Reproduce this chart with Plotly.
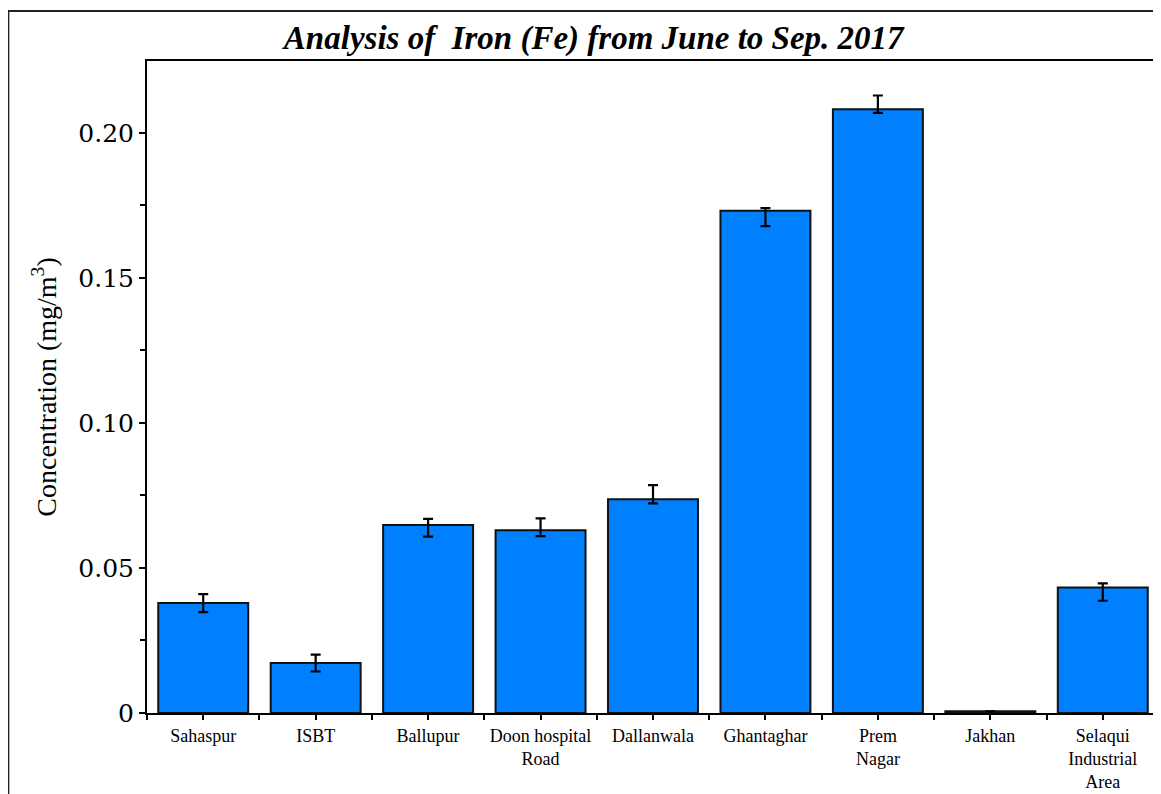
import plotly.graph_objects as go

categories = ["Sahaspur", "ISBT", "Ballupur", "Doon hospital<br>Road", "Dallanwala",
              "Ghantaghar", "Prem<br>Nagar", "Jakhan", "Selaqui<br>Industrial<br>Area"]
values = [0.0379, 0.0172, 0.0648, 0.0630, 0.0737, 0.1732, 0.2082, 0.0006, 0.0433]
err_plus = [0.0031, 0.0029, 0.0021, 0.0041, 0.0049, 0.0009, 0.0047, 0.0, 0.0014]
err_minus = [0.0031, 0.0029, 0.0040, 0.0020, 0.0014, 0.0053, 0.0013, 0.0, 0.0046]
y_ticks = [0, 0.05, 0.10, 0.15, 0.20]
y_ticktext = ["0", "0.05", "0.10", "0.15", "0.20"]

xpos = list(range(len(categories)))

fig = go.Figure()
fig.add_trace(go.Bar(
    x=xpos, y=values,
    marker=dict(color="#0080FF", line=dict(color="#111111", width=2)),
    width=0.8,
    error_y=dict(type="data", symmetric=False, array=err_plus, arrayminus=err_minus,
                 color="black", thickness=2.2, width=5),
))

serif = "Liberation Serif, Times New Roman, serif"

fig.update_layout(
    width=1153, height=786,
    margin=dict(l=139, r=0, t=53, b=81),
    paper_bgcolor="white", plot_bgcolor="white",
    showlegend=False,
    title=dict(text="<b><i>Analysis of  Iron (Fe) from June to Sep. 2017</i></b>",
               x=0.508, xanchor="center", y=0.962, yanchor="middle",
               font=dict(family=serif, size=33, color="black")),
    font=dict(family=serif, color="black"),
    xaxis=dict(
        range=[-0.5, len(categories) - 0.5],
        tickmode="array", tickvals=xpos, ticktext=categories,
        ticks="outside", ticklen=5, tickwidth=2, tickcolor="black",
        minor=dict(dtick=0.5, tick0=-0.5, ticks="outside", ticklen=5, tickwidth=2, tickcolor="black"),
        showline=True, linecolor="black", linewidth=2, mirror=True,
        showgrid=False, zeroline=False,
        tickfont=dict(family=serif, size=18, color="black"),
    ),
    yaxis=dict(
        range=[0, 0.2248],
        tickmode="array", tickvals=y_ticks, ticktext=y_ticktext,
        ticks="outside", ticklen=6, tickwidth=2, tickcolor="black",
        minor=dict(dtick=0.025, tick0=0, ticks="outside", ticklen=5, tickwidth=2, tickcolor="black"),
        showline=True, linecolor="black", linewidth=2, mirror=True,
        showgrid=False, zeroline=False,
        tickfont=dict(family="DejaVu Serif, serif", size=25, color="black"),
        title=dict(text="Concentration (mg/m<sup>3</sup>)", standoff=14,
                   font=dict(family=serif, size=28, color="black")),
    ),
    shapes=[dict(type="rect", xref="paper", yref="paper",
                 x0=-0.137, x1=1.05, y0=-0.3, y1=1.0767,
                 line=dict(color="#222222", width=2), fillcolor="rgba(0,0,0,0)", layer="below")],
)

fig.write_html("out.html")
